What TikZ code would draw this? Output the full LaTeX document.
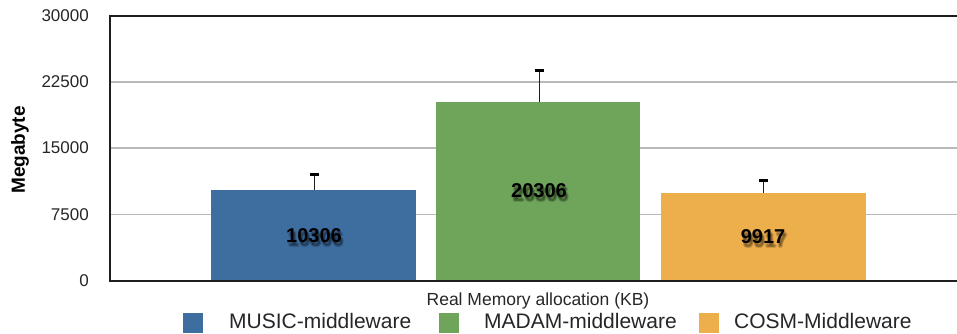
\documentclass[tikz,border=0pt]{standalone}
\usepackage{fontspec}
\setmainfont{Liberation Sans}
\definecolor{musicblue}{RGB}{62,109,160}
\definecolor{madamgreen}{RGB}{111,165,90}
\definecolor{cosmorange}{RGB}{237,174,76}
\definecolor{gridgray}{RGB}{185,185,185}
\definecolor{axisdark}{RGB}{30,30,30}
\tikzset{
  gridline/.style={draw=gridgray,line width=1.5pt},
  axisline/.style={draw=axisdark,line width=2pt},
  errbar/.style={draw=axisdark,line width=1.5pt},
  errcap/.style={draw=black,line width=3pt},
  ticklabel/.style={anchor=east,inner sep=0pt,font=\fontsize{17}{20}\selectfont,text=black!85},
  valuelabel/.style={inner sep=0pt,font=\fontsize{20}{24}\selectfont\bfseries},
  valueshadow/.style={inner sep=0pt,font=\fontsize{20}{24}\selectfont\bfseries,text=black,opacity=0.14},
  legendlabel/.style={anchor=base west,inner sep=0pt,font=\fontsize{21}{24}\selectfont,text=black!85},
}
% value label with a soft drop shadow made of faint offset copies
\newcommand{\shadowlabel}[4]{%
  \foreach \dx/\dy in {1/2,2/3,1/4,3/4,2/5}{
    \node[valueshadow] at ([xshift=\dx pt,yshift=-\dy pt]#2,#3) {#4};
  }
  \node[valuelabel] (#1) at (#2,#3) {#4};
}
\begin{document}
\begin{tikzpicture}[x=1pt,y=-1pt]
\useasboundingbox (0,0) rectangle (957,333);

% horizontal grid
\foreach \y in {82,148,214.5}{
  \draw[gridline] (110,\y) -- (957,\y);
}
\draw[axisline] (110,16) -- (957,16);

% bars
\fill[musicblue]  (211,280.5) rectangle (416,189.6);
\fill[madamgreen] (436,280.5) rectangle (640,101.5);
\fill[cosmorange] (661,280.5) rectangle (866,193.1);

% error bars
\coordinate (e1b) at (314.3,189.6); \coordinate (e1t) at (314.3,174);
\coordinate (e2b) at (539.3,101.5); \coordinate (e2t) at (539.3,70.3);
\coordinate (e3b) at (763.7,193.1); \coordinate (e3t) at (763.7,180.7);
\foreach \n in {1,2,3}{
  \draw[errbar] (e\n b) -- (e\n t);
  \draw[errcap] ([xshift=-4.5pt]e\n t) -- ([xshift=4.5pt]e\n t);
}

% axes
\draw[axisline] (110,15) -- (110,281.5);
\draw[axisline] (109,280.5) -- (957,280.5);

% tick labels
\node[ticklabel] (t0) at (89,281) {0};
\node[ticklabel] (t1) at (89,214.5) {7500};
\node[ticklabel] (t2) at (89,148) {15000};
\node[ticklabel] (t3) at (89,82) {22500};
\node[ticklabel] (t4) at (89,16) {30000};

% axis titles
\node[rotate=90,inner sep=0pt,font=\fontsize{19}{22}\selectfont\bfseries] (ytitle) at (20,150) {Megabyte};
\node[anchor=base,inner sep=0pt,font=\fontsize{17.5}{20}\selectfont,text=black!85] (xtitle) at (538,305) {Real Memory allocation (KB)};

% value labels
\shadowlabel{v1}{314}{236}{10306}
\shadowlabel{v2}{539}{191}{20306}
\shadowlabel{v3}{763}{237}{9917}

% legend
\fill[musicblue]  (183,313) rectangle (203,333);
\fill[madamgreen] (439,313) rectangle (459,333);
\fill[cosmorange] (699,313) rectangle (719,333);
\node[legendlabel] (l1) at (229,328) {MUSIC-middleware};
\node[legendlabel] (l2) at (484,328) {MADAM-middleware};
\node[legendlabel] (l3) at (734,328) {COSM-Middleware};
\end{tikzpicture}
\end{document}
